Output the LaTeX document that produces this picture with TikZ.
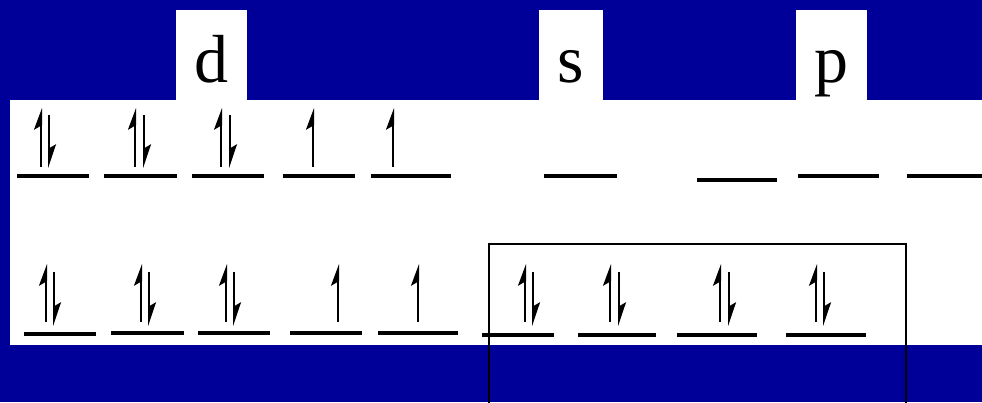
\documentclass[tikz,border=0pt]{standalone}
\usepackage{fontspec}
\setmainfont{Liberation Serif}
\usetikzlibrary{arrows.meta}
\definecolor{slideblue}{RGB}{0,0,153}
\tikzset{
    orb/.style={line width=4.8pt},
    spinup/.style={line width=2pt, -{Stealth[left, length=19pt, width=14pt, inset=4pt]}},
    spindn/.style={line width=1.8pt, -{Stealth[left, length=21pt, width=14pt, inset=4pt]}},
    tag/.style={fill=white, minimum width=71pt, minimum height=90pt, inner sep=0, text height=60pt, text depth=6pt, font=\fontsize{68}{68}\selectfont}
}

\begin{document}
\begin{tikzpicture}[x=1pt,y=-1pt]
    \useasboundingbox (0,0) rectangle (982,402);
    \fill[slideblue] (0,0) rectangle (982,402);
    \fill[white] (10,100) rectangle (982,345);
    \node[tag] (d) at (211.5,55) {d};
    \node[tag, minimum width=64pt] (s) at (571,55) {s};
    \node[tag] (p) at (831.5,55) {p};
    % upper configuration
    \foreach \a/\b/\y in {17/89/176, 104/177/176, 192/264/176, 283/355/176, 371/451/176,
                          544/617/176, 697/777/180, 798/879/176, 907/985/176}
        \draw[orb] (\a,\y) -- (\b,\y);
    \foreach \x in {41,135,221,313,393}
        \draw[spinup] (\x,167) -- (\x,108);
    \foreach \x in {49,144,230}
        \draw[spindn] (\x,115) -- (\x,168);
    % lower configuration
    \foreach \a/\b/\y in {24/96/334, 111/184/333, 198/270/333, 290/362/333, 378/458/333,
                          482/554/335, 578/656/335, 677/757/335, 786/866/335}
        \draw[orb] (\a,\y) -- (\b,\y);
    \foreach \x in {46,141,226,338,418,525,610,720,816}
        \draw[spinup] (\x,322) -- (\x,264);
    \foreach \x in {54,149,234,533,619,729,824}
        \draw[spindn] (\x,272) -- (\x,326);
    \draw[line width=2pt] (489,404) -- (489,244) -- (906,244) -- (906,404);
\end{tikzpicture}
\end{document}
